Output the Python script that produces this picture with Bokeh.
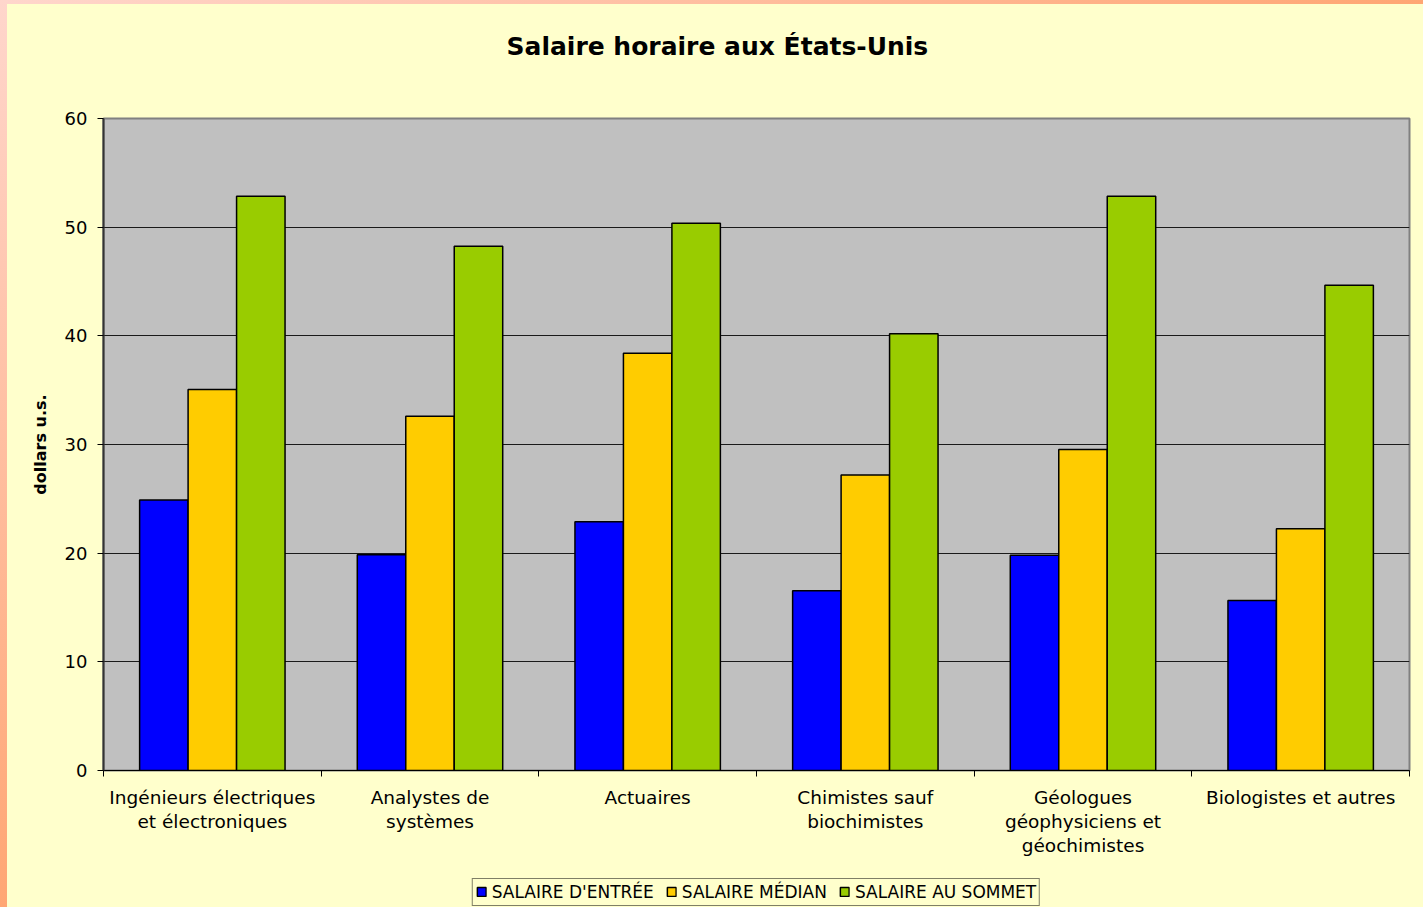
from bokeh.plotting import figure
from bokeh.layouts import column
from bokeh.models import (Range1d, FixedTicker, Legend, LegendItem, ColumnDataSource,
                          Title, GlobalInlineStyleSheet)
from bokeh.transform import dodge
from bokeh.embed import file_html
from bokeh.resources import INLINE

# ---------------- data ----------------
categories = [
    "Ingénieurs électriques\net électroniques",
    "Analystes de\nsystèmes",
    "Actuaires",
    "Chimistes sauf\nbiochimistes",
    "Géologues\ngéophysiciens et\ngéochimistes",
    "Biologistes et autres",
]
salaire_entree = [24.9, 19.85, 22.9, 16.55, 19.8, 15.65]
salaire_median = [35.05, 32.6, 38.4, 27.2, 29.55, 22.25]
salaire_sommet = [52.85, 48.25, 50.35, 40.2, 52.85, 44.65]
series_names = ["SALAIRE D'ENTRÉE", "SALAIRE MÉDIAN", "SALAIRE AU SOMMET"]
series_colors = ["#0000FF", "#FFCC00", "#99CC00"]
y_ticks = [0, 10, 20, 30, 40, 50, 60]
title_text = "Salaire horaire aux États-Unis"
y_label = "dollars u.s."

FONT = "DejaVu Sans"
BG = "#FFFFCC"

centers = [i + 0.5 for i in range(len(categories))]
boundaries = list(range(len(categories) + 1))
src = ColumnDataSource(dict(x=centers, entree=salaire_entree,
                            median=salaire_median, sommet=salaire_sommet))

p = figure(width=1416, height=862, output_backend="svg", toolbar_location=None,
           x_range=Range1d(0, len(categories)), y_range=Range1d(0, 60),
           title=None, min_border_left=96, min_border_top=114,
           min_border_right=14, min_border_bottom=96)

p.border_fill_color = BG
p.background_fill_color = "#C0C0C0"
p.outline_line_color = "#808080"
p.outline_line_width = 2

p.stylesheets = [GlobalInlineStyleSheet(css=(
    "html, body { margin: 0 !important; overflow: hidden !important; }"
    "body { padding: 4px 0 0 7px !important; box-sizing: border-box; background: "
    "linear-gradient(to bottom, #FFD6CC, #FFA673) left top / 7px 100% no-repeat, "
    "linear-gradient(to right, #FFD6CC, #FFA673) left top / 100% 4px no-repeat, "
    "#FFFFCC !important; }"))]

# bars
w = 0.2227
fields = ["entree", "median", "sommet"]
offsets = [-w, 0.0, w]
for f, off, col in zip(fields, offsets, series_colors):
    p.vbar(x=dodge("x", off, range=p.x_range), top=f, width=w, source=src,
           fill_color=col, line_color="black", line_width=1.5)

# title (a trailing blank line lifts it away from the plot area)
p.add_layout(Title(text=title_text + "\n", align="left", offset=403,
                   vertical_align="bottom", standoff=46,
                   text_font=FONT, text_font_size="25px", text_font_style="bold",
                   text_line_height=1.2, text_color="black"), "above")

# x axis
xa = p.xaxis[0]
xa.ticker = FixedTicker(ticks=centers, minor_ticks=boundaries)
xa.major_label_overrides = {c: lab for c, lab in zip(centers, categories)}
xa.major_tick_out = 0
xa.major_tick_in = 0
xa.minor_tick_out = 6
xa.minor_tick_in = 0
xa.minor_tick_line_color = "black"
xa.axis_line_color = "black"
xa.axis_line_width = 1
xa.major_label_text_font = FONT
xa.major_label_text_font_size = "18.5px"
xa.major_label_text_color = "black"
xa.major_label_standoff = 10
xa.major_label_text_line_height = 1.15

# y axis
ya = p.yaxis[0]
ya.ticker = FixedTicker(ticks=y_ticks)
ya.minor_tick_line_color = None
ya.major_tick_out = 6
ya.major_tick_in = 0
ya.major_tick_line_color = "black"
ya.axis_line_color = "#333333"
ya.axis_line_width = 2
ya.major_label_text_font = FONT
ya.major_label_text_font_size = "18px"
ya.major_label_text_color = "black"
ya.major_label_standoff = 10
ya.axis_label = y_label
ya.axis_label_text_font = FONT
ya.axis_label_text_font_size = "16px"
ya.axis_label_text_font_style = "bold"
ya.axis_label_text_color = "black"
ya.axis_label_standoff = 12

p.xgrid.visible = False
p.ygrid.grid_line_color = "#1a1a1a"
p.ygrid.grid_line_width = 1

# legend strip below the chart (its swatch glyphs lie outside its visible range)
pl = figure(width=1416, height=41, output_backend="svg", toolbar_location=None,
            x_range=Range1d(0, 1), y_range=Range1d(1, 2),
            x_axis_location=None, y_axis_location=None, title=None,
            min_border_left=96, min_border_right=14, min_border_top=10,
            min_border_bottom=0)
pl.border_fill_color = BG
pl.background_fill_color = BG
pl.outline_line_color = None
pl.grid.visible = False

swatch_src = ColumnDataSource(dict(x=[0.0], top=[0.0]))
items = []
for col, name in zip(series_colors, series_names):
    r = pl.vbar(x="x", top="top", width=0.0, source=swatch_src,
                fill_color=col, line_color="black", line_width=1.5)
    items.append(LegendItem(label=name, renderers=[r]))

legend = Legend(items=items, orientation="horizontal", location="center",
                label_text_font=FONT, label_text_font_size="17px",
                label_text_color="black", glyph_width=11, glyph_height=11,
                label_standoff=5, spacing=12, padding=3, margin=0,
                border_line_color="black", border_line_width=1,
                background_fill_color=BG, background_fill_alpha=1.0,
                label_height=19)
pl.add_layout(legend, "center")

layout = column(p, pl, spacing=0)
open("out.html", "w").write(file_html(layout, INLINE))
